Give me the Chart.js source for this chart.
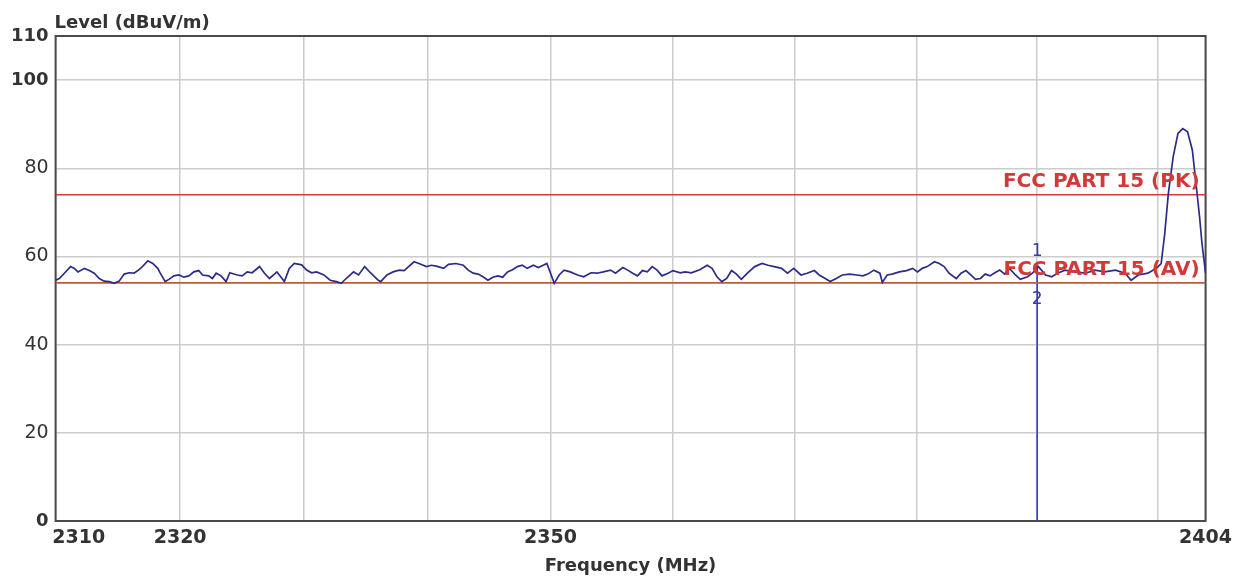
<!DOCTYPE html>
<html>
<head>
<meta charset="utf-8">
<title>Level vs Frequency</title>
<script src="https://cdn.jsdelivr.net/npm/chart.js@4.4.1/dist/chart.umd.min.js"></script>
<style>
  body { margin: 0; background: #fff; }
</style>
</head>
<body>
<canvas id="levelChart" width="1238" height="581"></canvas>
<script>
// trace (MHz / dBuV/m)
const traceFreq = [
  2310.0, 2310.3, 2310.7, 2311.2, 2311.5, 2311.8, 2312.3, 2312.7, 2313.1, 2313.5,
  2313.9, 2314.3, 2314.7, 2315.1, 2315.5, 2315.9, 2316.3, 2316.6, 2316.9, 2317.4,
  2317.8, 2318.2, 2318.4, 2318.8, 2319.1, 2319.5, 2319.9, 2320.3, 2320.7, 2321.1,
  2321.5, 2321.8, 2322.3, 2322.6, 2322.9, 2323.3, 2323.7, 2324.0, 2324.6, 2325.0,
  2325.4, 2325.8, 2326.4, 2326.8, 2327.2, 2327.8, 2328.0, 2328.4, 2328.8, 2329.2,
  2329.8, 2330.2, 2330.6, 2331.0, 2331.6, 2332.1, 2332.6, 2333.0, 2333.4, 2334.0,
  2334.4, 2334.9, 2335.4, 2336.0, 2336.2, 2336.7, 2337.2, 2337.7, 2338.1, 2338.5,
  2338.9, 2339.3, 2339.9, 2340.3, 2340.7, 2341.3, 2341.7, 2342.3, 2342.9, 2343.3,
  2343.7, 2344.1, 2344.5, 2344.9, 2345.3, 2345.7, 2346.1, 2346.5, 2346.9, 2347.3,
  2347.7, 2348.1, 2348.6, 2349.0, 2349.4, 2349.7, 2350.0, 2350.3, 2350.7, 2351.1,
  2351.6, 2352.2, 2352.7, 2353.3, 2353.8, 2354.3, 2354.9, 2355.3, 2355.9, 2356.3,
  2356.7, 2357.1, 2357.5, 2357.9, 2358.3, 2358.7, 2359.1, 2359.6, 2360.0, 2360.6,
  2361.0, 2361.5, 2362.2, 2362.8, 2363.2, 2363.6, 2364.0, 2364.4, 2364.8, 2365.2,
  2365.6, 2366.1, 2366.7, 2367.3, 2367.8, 2368.3, 2368.9, 2369.4, 2369.9, 2370.5,
  2371.0, 2371.6, 2372.0, 2372.5, 2372.9, 2373.4, 2373.9, 2374.5, 2375.1, 2375.6,
  2376.0, 2376.5, 2377.0, 2377.2, 2377.6, 2378.0, 2378.6, 2379.2, 2379.7, 2380.1,
  2380.5, 2380.9, 2381.5, 2381.9, 2382.3, 2382.7, 2383.3, 2383.7, 2384.1, 2384.5,
  2384.9, 2385.3, 2385.7, 2386.1, 2386.5, 2386.9, 2387.3, 2387.7, 2388.2, 2388.6,
  2389.2, 2389.6, 2390.1, 2390.7, 2391.2, 2391.7, 2392.3, 2393.1, 2394.0, 2394.8,
  2395.6, 2396.5, 2397.3, 2397.8, 2398.4, 2399.2, 2399.9, 2400.3, 2400.6, 2400.9,
  2401.3, 2401.7, 2402.1, 2402.5, 2402.9, 2403.2, 2403.5, 2403.7, 2404.0
];
const traceLevel = [
  54.6, 55.0, 56.2, 57.7, 57.3, 56.5, 57.3, 56.8, 56.2, 55.0,
  54.4, 54.3, 53.9, 54.4, 56.0, 56.3, 56.2, 56.8, 57.5, 59.0,
  58.4, 57.3, 56.2, 54.3, 54.8, 55.6, 55.8, 55.3, 55.6, 56.5,
  56.8, 55.8, 55.6, 55.0, 56.2, 55.6, 54.3, 56.3, 55.8, 55.6,
  56.5, 56.3, 57.7, 56.2, 55.0, 56.5, 55.8, 54.3, 57.3, 58.4,
  58.1, 56.9, 56.3, 56.5, 55.8, 54.6, 54.3, 53.9, 55.0, 56.5,
  55.8, 57.7, 56.2, 54.6, 54.3, 55.8, 56.5, 56.9, 56.8, 57.8,
  58.8, 58.4, 57.7, 58.0, 57.8, 57.3, 58.2, 58.4, 58.0, 56.9,
  56.2, 56.0, 55.4, 54.6, 55.3, 55.6, 55.3, 56.5, 57.0, 57.7,
  58.0, 57.3, 58.0, 57.5, 58.0, 58.4, 56.2, 53.9, 55.8, 56.9,
  56.5, 55.8, 55.4, 56.3, 56.2, 56.5, 56.9, 56.2, 57.5, 56.9,
  56.2, 55.6, 56.8, 56.5, 57.7, 56.9, 55.6, 56.2, 56.8, 56.3,
  56.5, 56.3, 57.0, 58.0, 57.3, 55.4, 54.3, 55.0, 56.8, 56.0,
  54.8, 56.2, 57.7, 58.4, 58.0, 57.7, 57.3, 56.2, 57.3, 55.8,
  56.2, 56.8, 55.8, 55.0, 54.3, 55.0, 55.8, 56.0, 55.8, 55.6,
  56.0, 56.9, 56.2, 54.1, 55.8, 56.0, 56.5, 56.8, 57.3, 56.5,
  57.3, 57.7, 58.8, 58.4, 57.7, 56.2, 55.0, 56.2, 56.8, 55.8,
  54.8, 55.0, 56.0, 55.6, 56.3, 56.9, 56.0, 57.3, 55.8, 54.8,
  55.4, 56.2, 57.7, 55.8, 55.4, 56.2, 56.9, 56.5, 56.2, 56.9,
  56.5, 56.9, 56.2, 54.6, 55.8, 56.2, 57.3, 58.4, 65.2, 74.3,
  82.6, 87.9, 89.0, 88.3, 84.1, 76.6, 69.0, 63.0, 56.2
];

const limitLevels = [74, 54];
const limitNames = ['FCC PART 15 (PK)', 'FCC PART 15 (AV)'];
const markerFreq = 2390;
const markerLevel = 58;
const markerNames = ['1', '2'];
const markerNameLevels = [61, 50.3];

const freqMin = 2310;
const freqMax = 2404;
const xGridValues = [2310, 2320, 2330, 2340, 2350, 2360, 2370, 2380, 2390, 2400, 2404];
const xLabelValues = [2310, 2320, 2350, 2404];
const yTickValues = [0, 20, 40, 60, 80, 100, 110];
const yBoldValues = [0, 100, 110];

const FONT = '"DejaVu Sans", sans-serif';

const tracePoints = traceFreq.map((f, i) => ({ x: f, y: traceLevel[i] }));

const extras = {
  id: 'extras',
  beforeDatasetsDraw(chart) {
    const { ctx, chartArea: a } = chart;
    ctx.save();
    ctx.strokeStyle = '#4a4a4a';
    ctx.lineWidth = 2;
    ctx.strokeRect(a.left, a.top, a.right - a.left, a.bottom - a.top);
    ctx.restore();
  },
  afterDatasetsDraw(chart) {
    const { ctx, chartArea: a, scales } = chart;
    ctx.save();
    // limit names
    ctx.font = 'bold 20px ' + FONT;
    ctx.fillStyle = '#d23a3a';
    ctx.textAlign = 'right';
    ctx.textBaseline = 'alphabetic';
    limitLevels.forEach((lv, i) => {
      ctx.fillText(limitNames[i], a.right - 6, scales.y.getPixelForValue(lv) - 8);
    });
    // marker numbers
    ctx.font = '17px ' + FONT;
    ctx.fillStyle = '#3a3aa8';
    ctx.textAlign = 'center';
    ctx.textBaseline = 'middle';
    markerNames.forEach((m, i) => {
      ctx.fillText(m, scales.x.getPixelForValue(markerFreq), scales.y.getPixelForValue(markerNameLevels[i]));
    });
    // y axis title
    ctx.font = 'bold 18px ' + FONT;
    ctx.fillStyle = '#333';
    ctx.textAlign = 'left';
    ctx.textBaseline = 'alphabetic';
    ctx.fillText('Level (dBuV/m)', a.left - 1, 28);
    ctx.restore();
  }
};

new Chart(document.getElementById('levelChart').getContext('2d'), {
  type: 'line',
  data: {
    datasets: [
      {
        label: 'Level',
        data: tracePoints,
        borderColor: '#2c2c88',
        borderWidth: 1.7,
        pointRadius: 0,
        tension: 0
      },
      {
        label: limitNames[0],
        data: [{ x: freqMin, y: limitLevels[0] }, { x: freqMax, y: limitLevels[0] }],
        borderColor: '#d43a3a',
        borderWidth: 1.6,
        pointRadius: 0
      },
      {
        label: limitNames[1],
        data: [{ x: freqMin, y: limitLevels[1] }, { x: freqMax, y: limitLevels[1] }],
        borderColor: '#bf5a3c',
        borderWidth: 1.8,
        pointRadius: 0
      },
      {
        label: 'Marker',
        data: [{ x: markerFreq, y: 0 }, { x: markerFreq, y: markerLevel }],
        borderColor: '#3a3ad0',
        borderWidth: 1.6,
        pointRadius: 0
      }
    ]
  },
  options: {
    responsive: false,
    animation: false,
    layout: { padding: { top: 36, right: 30, left: 0, bottom: 0 } },
    plugins: {
      legend: { display: false },
      tooltip: { enabled: false }
    },
    scales: {
      x: {
        type: 'logarithmic',
        min: freqMin,
        max: freqMax,
        afterBuildTicks: scale => { scale.ticks = xGridValues.map(v => ({ value: v })); },
        afterFit: scale => { scale.height = 60; },
        grid: { color: '#cccccc', lineWidth: 1.5, drawTicks: false },
        border: { display: false },
        ticks: {
          autoSkip: false,
          maxRotation: 0,
          padding: 6,
          color: '#333',
          font: { family: FONT, size: 19, weight: 'bold' },
          callback: v => {
            if (!xLabelValues.includes(v)) return '';
            return v === freqMin ? '       ' + v : String(v);
          }
        },
        title: {
          display: true,
          text: 'Frequency (MHz)',
          color: '#333',
          font: { family: FONT, size: 18, weight: 'bold' },
          padding: { top: 0, bottom: 4 }
        }
      },
      y: {
        min: 0,
        max: 110,
        afterBuildTicks: scale => { scale.ticks = yTickValues.map(v => ({ value: v })); },
        afterFit: scale => { scale.width = 53; },
        grid: { color: '#cccccc', lineWidth: 1.5, drawTicks: false },
        border: { display: false },
        ticks: {
          padding: 7,
          color: '#333',
          font: ctx => ({
            family: FONT,
            size: yBoldValues.includes(ctx.tick && ctx.tick.value) ? 18 : 19,
            weight: yBoldValues.includes(ctx.tick && ctx.tick.value) ? 'bold' : 'normal'
          })
        }
      }
    }
  },
  plugins: [extras]
});
</script>
</body>
</html>
